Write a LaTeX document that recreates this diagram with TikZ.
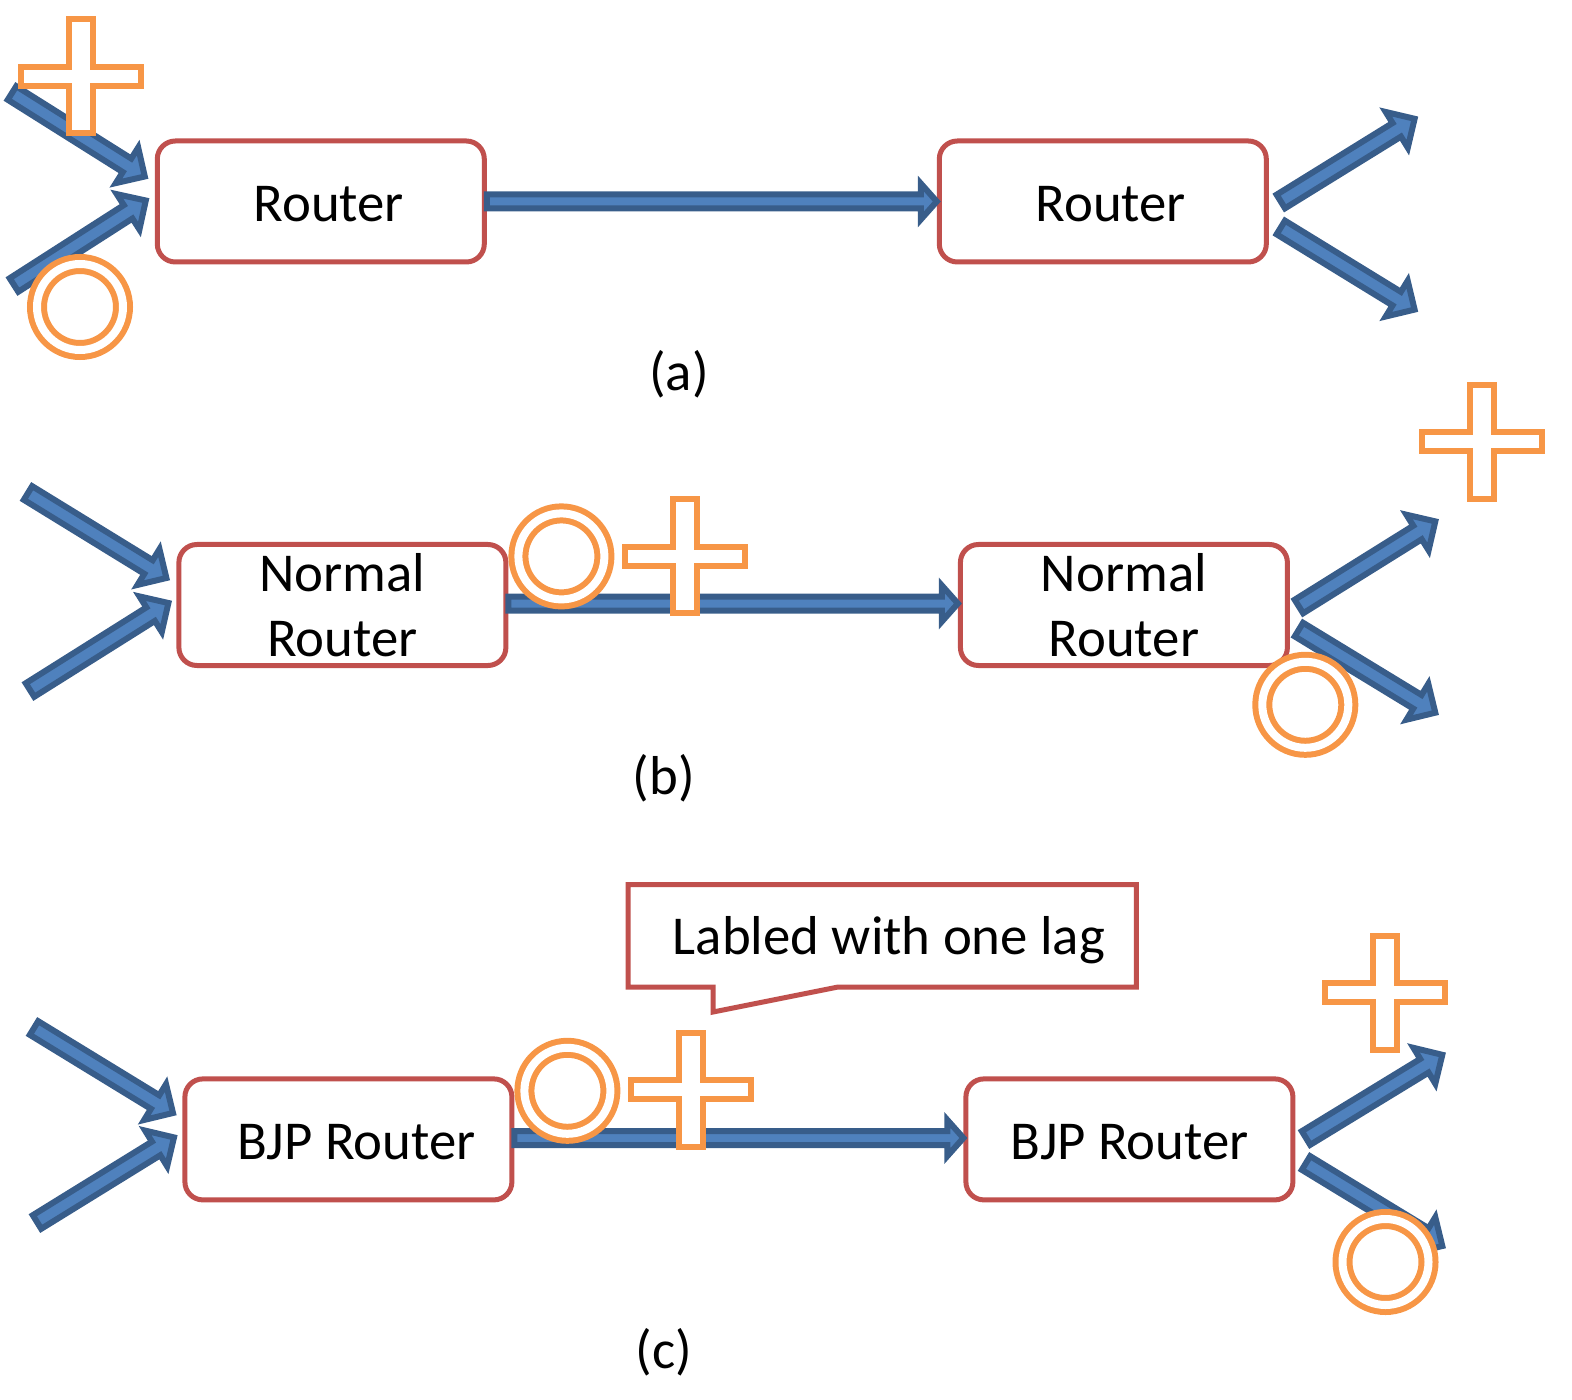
\documentclass[tikz,border=0pt]{standalone}
\usepackage{fontspec}
\setmainfont{Carlito}
\usepackage{tikz}
\usetikzlibrary{calc}

\definecolor{boxred}{RGB}{192,80,77}
\definecolor{arrowdark}{RGB}{56,93,138}
\definecolor{arrowlight}{RGB}{79,129,189}
\definecolor{markorange}{RGB}{247,150,70}

\begin{document}
\begin{tikzpicture}[
    x=0.5pt, y=-0.5pt,
    every node/.style={font=\fontsize{27.4}{32.5}\selectfont},
    router/.style={draw=boxred, line width=2.5pt, rounded corners=9pt, fill=white,
        minimum width=163.5pt, minimum height=60.5pt, align=center, inner sep=0pt},
    oneline/.style={text height=20.5pt},
    fat/.style n args={3}{draw=arrowdark, fill=arrowlight, line width=3pt, to path={
        ($(\tikztostart)!#1!90:(\tikztotarget)$)
        -- ($(\tikztotarget)!#3!(\tikztostart)!#1!-90:(\tikztostart)$)
        -- ($(\tikztotarget)!#3!(\tikztostart)!#2!-90:(\tikztostart)$)
        -- (\tikztotarget)
        -- ($(\tikztotarget)!#3!(\tikztostart)!#2!90:(\tikztostart)$)
        -- ($(\tikztotarget)!#3!(\tikztostart)!#1!90:(\tikztostart)$)
        -- ($(\tikztostart)!#1!-90:(\tikztotarget)$) -- cycle}},
    sidearrow/.style={fat={4pt}{10.5pt}{10.5pt}},
    linkarrow/.style={fat={3.5pt}{9pt}{8pt}},
    ringmark/.style={circle, draw=markorange, line width=3pt, double=white,
        double distance=4pt, fill=white, minimum size=43pt, inner sep=0pt},
    plusmark/.pic={
        \draw[markorange, line width=3pt, fill=white]
            (-12,-57) -- (12,-57) -- (12,-9.5) -- (60,-9.5) -- (60,9.5) -- (12,9.5)
            -- (12,57) -- (-12,57) -- (-12,9.5) -- (-60,9.5) -- (-60,-9.5) -- (-12,-9.5) -- cycle;
    }
]
\useasboundingbox (0,0) rectangle (1572,1400);

% (a)
\node[router, oneline] (routerA1) at (320.8,201.5) {\hspace*{8pt}Router};
\node[router, oneline] (routerA2) at (1102.8,201.5) {\hspace*{8pt}Router};
\coordinate (inA1) at (12,93);
\coordinate (inA2) at (14,285);
\coordinate (outA1) at (1414.6,118.8);
\coordinate (outA2) at (1414.6,309.6);
\draw[sidearrow] (inA1) to ([shift={(-5pt,12.5pt)}]routerA1.west);
\draw[sidearrow] (inA2) to ([shift={(-4.5pt,0.5pt)}]routerA1.west);
\draw[linkarrow] (routerA1.east) to (routerA2.west);
\draw[sidearrow] ([xshift=6pt]routerA2.east) to (outA1);
\draw[sidearrow] ([shift={(6pt,-13pt)}]routerA2.east) to (outA2);
\pic at (80.5,76.5) {plusmark};
\node[ringmark] (ringA) at (80,307) {};
\node (capA) at (679,374.5) {(a)};

% (b)
\node[router] (routerB1) at (342.4,605) {Normal\\Router};
\node[router] (routerB2) at (1123.9,605) {Normal\\Router};
\coordinate (inB1) at (28,493);
\coordinate (inB2) at (30,690);
\coordinate (outB1) at (1435.3,521.4);
\coordinate (outB2) at (1435.3,712.7);
\draw[sidearrow] (inB1) to ([shift={(-5pt,13.5pt)}]routerB1.west);
\draw[sidearrow] (inB2) to ([shift={(-4pt,1pt)}]routerB1.west);
\draw[linkarrow] ([yshift=0.75pt]routerB1.east) to ([yshift=0.75pt]routerB2.west);
\draw[sidearrow] ([shift={(4.5pt,-0.75pt)}]routerB2.east) to (outB1);
\draw[sidearrow] ([shift={(4.5pt,-12.3pt)}]routerB2.east) to (outB2);
\node[ringmark] (ringB1) at (561.4,556.4) {};
\pic at (684.7,556.4) {plusmark};
\pic at (1481.8,442) {plusmark};
\node[ringmark] (ringB2) at (1305.3,704.8) {};
\node (capB) at (663.7,778) {(b)};

% (c)
\draw[boxred, line width=2.5pt, fill=white] (628,884.7) -- (1136.4,884.7) -- (1136.4,987)
    -- (838,987) -- (713,1012) -- (713,987) -- (628,987) -- cycle;
\node (note) at (889,940.5) {Labled with one lag};
\node[router, oneline] (routerC1) at (348.4,1139.4) {\hspace*{8pt}BJP Router};
\node[router, oneline] (routerC2) at (1129.4,1139.4) {BJP Router};
\coordinate (inC1) at (34,1028);
\coordinate (inC2) at (37,1222);
\coordinate (outC1) at (1442.3,1054.8);
\coordinate (outC2) at (1442.3,1246);
\draw[sidearrow] (inC1) to ([shift={(-4.7pt,13.2pt)}]routerC1.west);
\draw[sidearrow] (inC2) to ([shift={(-4.2pt,1pt)}]routerC1.west);
\draw[linkarrow] ([yshift=0.7pt]routerC1.east) to ([yshift=0.7pt]routerC2.west);
\draw[sidearrow] ([shift={(5.3pt,0.7pt)}]routerC2.east) to (outC1);
\draw[sidearrow] ([shift={(5.3pt,-11.8pt)}]routerC2.east) to (outC2);
\node[ringmark] (ringC1) at (567.4,1090.8) {};
\pic at (690.8,1089.8) {plusmark};
\pic at (1384.5,992.5) {plusmark};
\node[ringmark] (ringC2) at (1385.5,1262) {};
\node (capC) at (663.7,1352.4) {(c)};
\end{tikzpicture}
\end{document}
